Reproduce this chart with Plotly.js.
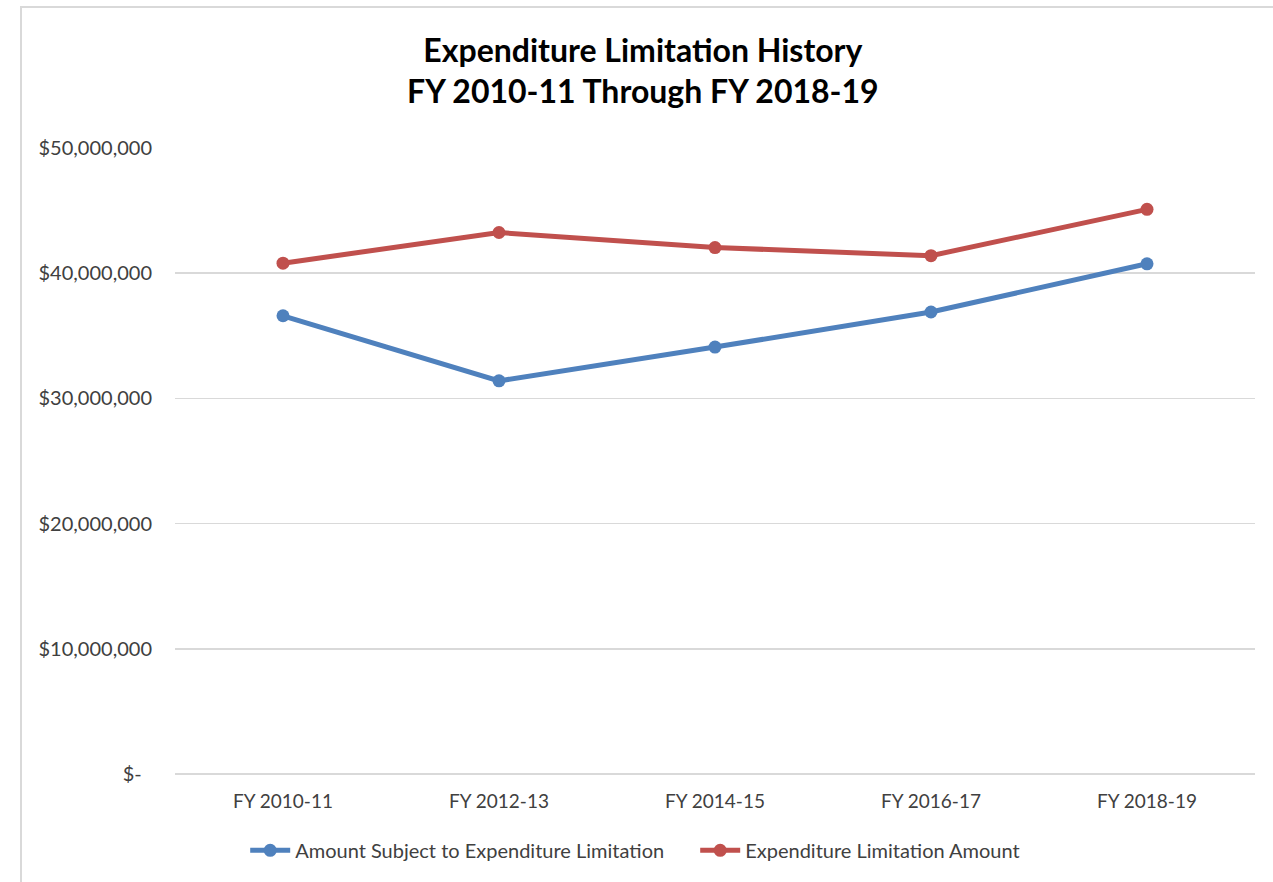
<!DOCTYPE html>
<html>
<head>
<meta charset="utf-8">
<script src="https://cdn.plot.ly/plotly-3.0.1.min.js"></script>
<style>
  html, body { margin: 0; padding: 0; background: #ffffff; }
  #frame { position: absolute; left: 20px; top: 6px; width: 1300px; height: 900px; border: 2px solid #d9d9d9; box-sizing: border-box; }
  #chart { position: absolute; left: 0; top: 0; width: 1273px; height: 882px; }
</style>
</head>
<body>
<div id="frame"></div>
<div id="chart"></div>
<script>
const categories = ["FY 2010-11", "FY 2012-13", "FY 2014-15", "FY 2016-17", "FY 2018-19"];
const amountSubject = [36600000, 31400000, 34100000, 36900000, 40750000];
const limitationAmount = [40800000, 43250000, 42050000, 41400000, 45100000];
const yTickVals = [0, 10000000, 20000000, 30000000, 40000000, 50000000];
const yTickText = ["$-\u00a0\u00a0", "$10,000,000", "$20,000,000", "$30,000,000", "$40,000,000", "$50,000,000"];
const seriesNames = ["Amount Subject to Expenditure Limitation", "Expenditure Limitation Amount"];

const font = "Lato, 'Open Sans', sans-serif";

const traces = [
  {
    x: categories, y: amountSubject, name: seriesNames[0], type: "scatter", mode: "lines+markers",
    line: { color: "#4F81BD", width: 5 },
    marker: { color: "#4F81BD", size: 13 }
  },
  {
    x: categories, y: limitationAmount, name: seriesNames[1], type: "scatter", mode: "lines+markers",
    line: { color: "#C0504D", width: 5 },
    marker: { color: "#C0504D", size: 13 }
  }
];

const layout = {
  width: 1273, height: 882,
  paper_bgcolor: "rgba(0,0,0,0)", plot_bgcolor: "rgba(0,0,0,0)",
  margin: { l: 175, r: 18, t: 148, b: 106 },
  title: {
    text: "<b>Expenditure Limitation History<br>FY 2010-11 Through FY 2018-19</b>",
    font: { family: font, size: 32, color: "#000000" },
    x: 0.505, xanchor: "center", y: 0.93, yanchor: "top"
  },
  xaxis: {
    type: "category", range: [-0.5, 4.5],
    showgrid: false, showline: false, zeroline: false,
    ticks: "outside", ticklen: 10, tickcolor: "rgba(0,0,0,0)",
    tickfont: { family: font, size: 19, color: "#404040" }
  },
  yaxis: {
    range: [0, 50000000], tickvals: yTickVals, ticktext: yTickText,
    showgrid: true, gridcolor: "#d9d9d9", gridwidth: 1.5,
    zeroline: true, zerolinecolor: "#d9d9d9", zerolinewidth: 1.5,
    showline: false, ticks: "outside", ticklen: 18, tickcolor: "rgba(0,0,0,0)",
    tickfont: { family: font, size: 20, color: "#404040" }
  },
  showlegend: true,
  legend: {
    orientation: "h", x: 0.065, xanchor: "left", y: -0.122, yanchor: "middle",
    font: { family: font, size: 20, color: "#404040" },
    itemwidth: 40, tracegroupgap: 0, entrywidth: 395, entrywidthmode: "pixels"
  },
  hovermode: false
};

Plotly.newPlot("chart", traces, layout, { staticPlot: true, displayModeBar: false });
</script>
</body>
</html>
